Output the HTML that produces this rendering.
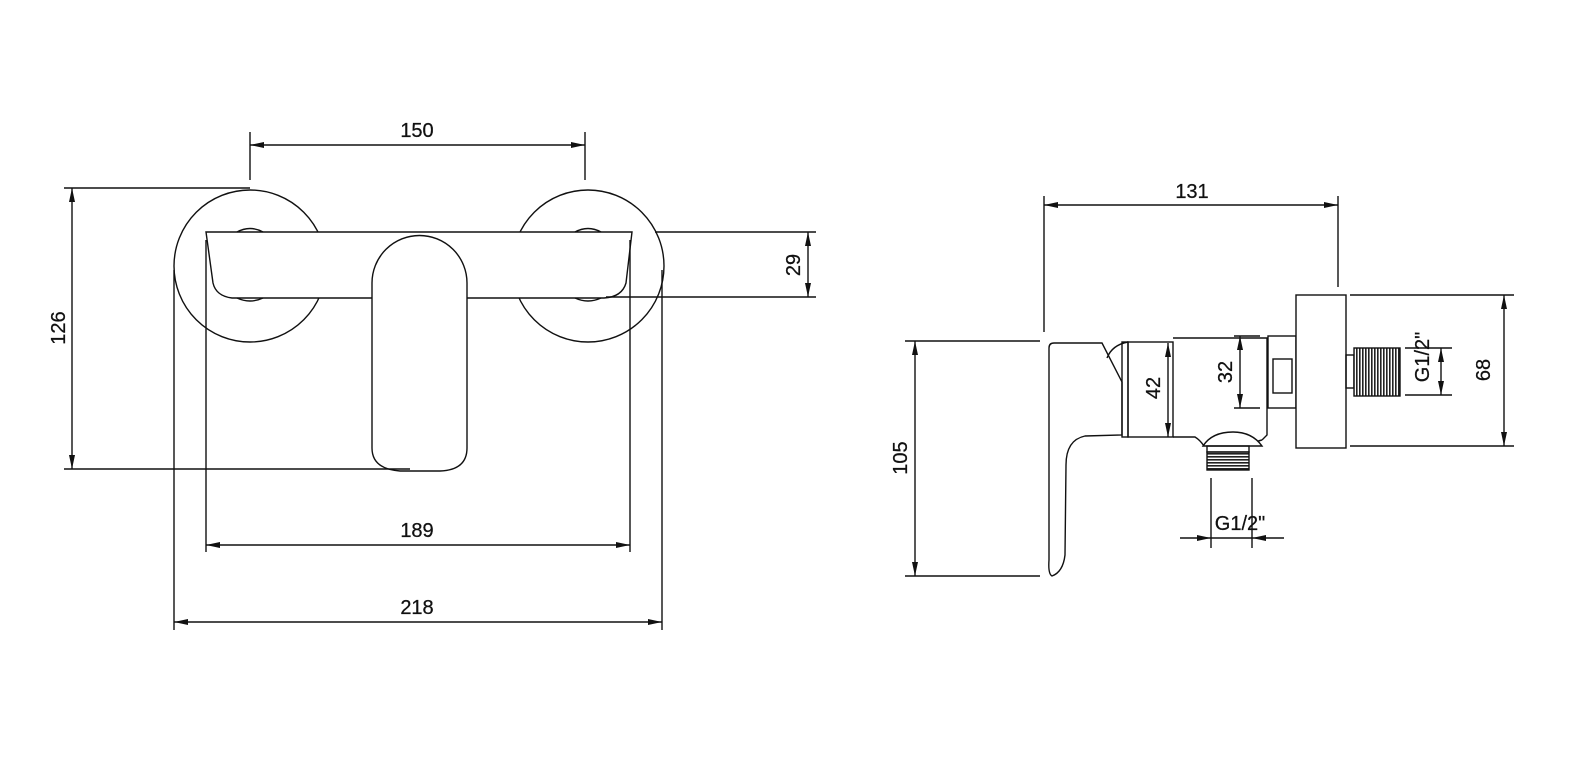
<!DOCTYPE html>
<html><head><meta charset="utf-8"><style>
html,body{margin:0;padding:0;background:#fff;}
svg{display:block}
text{font-family:"Liberation Sans",Arial,sans-serif;font-size:20px;fill:#111;stroke:#111;stroke-width:0.25}
</style></head><body>
<svg width="1576" height="776" viewBox="0 0 1576 776" xmlns="http://www.w3.org/2000/svg">
<defs>
<marker id="a" viewBox="0 0 14 6" refX="14" refY="3" markerWidth="14" markerHeight="6" markerUnits="userSpaceOnUse" orient="auto-start-reverse"><path d="M0,0 L14,3 L0,6 z" fill="#111"/></marker>
<pattern id="th" width="3" height="10" patternUnits="userSpaceOnUse"><rect width="3" height="10" fill="#fff"/><rect width="1.6" height="10" fill="#222"/></pattern>
<pattern id="tv" width="10" height="3" patternUnits="userSpaceOnUse"><rect width="10" height="3" fill="#fff"/><rect width="10" height="1.6" fill="#222"/></pattern>
</defs>
<g fill="none" stroke="#111" stroke-width="1.4">
<!-- LEFT VIEW -->
<circle cx="250" cy="266" r="76"/>
<circle cx="588" cy="266" r="76"/>
<path d="M206,232 L632,232 L626,283 Q622,297 604,298 L232,298 Q216,296 213,283 Z" fill="#fff"/>
<path d="M372,283 A47.5,47.5 0 0 1 467,283 L467,448 Q467,470 440,471 L400,471 Q372,469 372,448 Z" fill="#fff"/>
<path d="M237,232 Q250,225 263,232 M575,232 Q588,225 601,232 M237,298 Q250,304 263,298 M575,298 Q588,304 601,298"/>
<!-- dims left -->
<line x1="250" y1="132" x2="250" y2="180"/><line x1="585" y1="132" x2="585" y2="180"/>
<line x1="250" y1="145" x2="585" y2="145" marker-start="url(#a)" marker-end="url(#a)"/>
<line x1="64" y1="188" x2="250" y2="188"/><line x1="64" y1="469" x2="410" y2="469"/>
<line x1="72" y1="188" x2="72" y2="469" marker-start="url(#a)" marker-end="url(#a)"/>
<line x1="655" y1="232" x2="816" y2="232"/><line x1="606" y1="297" x2="816" y2="297"/>
<line x1="808" y1="232" x2="808" y2="297" marker-start="url(#a)" marker-end="url(#a)"/>
<line x1="206" y1="240" x2="206" y2="552"/><line x1="630" y1="240" x2="630" y2="552"/>
<line x1="206" y1="545" x2="630" y2="545" marker-start="url(#a)" marker-end="url(#a)"/>
<line x1="174" y1="270" x2="174" y2="630"/><line x1="662" y1="270" x2="662" y2="630"/>
<line x1="174" y1="622" x2="662" y2="622" marker-start="url(#a)" marker-end="url(#a)"/>
<!-- RIGHT VIEW -->
<line x1="1044" y1="196" x2="1044" y2="332"/><line x1="1338" y1="196" x2="1338" y2="287"/>
<line x1="1044" y1="205" x2="1338" y2="205" marker-start="url(#a)" marker-end="url(#a)"/>
<line x1="905" y1="341" x2="1040" y2="341"/><line x1="905" y1="576" x2="1040" y2="576"/>
<line x1="915" y1="341" x2="915" y2="576" marker-start="url(#a)" marker-end="url(#a)"/>
<path d="M1054,343 L1102,343 L1122,382 L1122,435 L1085,436 Q1066,440 1066,465 L1065,555 Q1063,572 1052,576 Q1048,574 1049,560 L1049,348 Q1049,343 1054,343 Z" fill="#fff"/>
<path d="M1107,358 Q1112,345 1128,342"/>
<rect x="1122" y="342" width="6" height="95"/>
<rect x="1128" y="342" width="45" height="95"/>
<path d="M1173,338 L1267,338 L1267,435 L1262,440 M1173,437 L1195,437 Q1200,440 1204,446 M1252,446 Q1256,441 1262,440"/>
<path d="M1203,446 Q1212,432 1233,432 Q1252,432 1262,446 Z" fill="#fff"/>
<rect x="1207" y="452" width="42" height="18" fill="url(#tv)"/>
<rect x="1207" y="446" width="42" height="6"/>
<rect x="1268" y="336" width="28" height="72"/>
<rect x="1273" y="359" width="19" height="34"/>
<rect x="1296" y="295" width="50" height="153" fill="#fff"/>
<rect x="1346" y="355" width="8" height="33"/>
<rect x="1354" y="348" width="46" height="48" fill="url(#th)"/>
<line x1="1168" y1="343" x2="1168" y2="437" marker-start="url(#a)" marker-end="url(#a)"/>
<line x1="1234" y1="336" x2="1260" y2="336"/><line x1="1234" y1="408" x2="1260" y2="408"/>
<line x1="1240" y1="336" x2="1240" y2="408" marker-start="url(#a)" marker-end="url(#a)"/>
<line x1="1211" y1="478" x2="1211" y2="548"/><line x1="1252" y1="478" x2="1252" y2="548"/>
<line x1="1180" y1="538" x2="1211" y2="538" marker-end="url(#a)"/><line x1="1284" y1="538" x2="1252" y2="538" marker-end="url(#a)"/>
<line x1="1211" y1="538" x2="1252" y2="538"/>
<line x1="1405" y1="348" x2="1452" y2="348"/><line x1="1405" y1="395" x2="1452" y2="395"/>
<line x1="1441" y1="372" x2="1441" y2="348" marker-end="url(#a)"/><line x1="1441" y1="372" x2="1441" y2="395" marker-end="url(#a)"/>
<line x1="1350" y1="295" x2="1514" y2="295"/><line x1="1350" y1="446" x2="1514" y2="446"/>
<line x1="1504" y1="295" x2="1504" y2="446" marker-start="url(#a)" marker-end="url(#a)"/>
</g>
<text x="417" y="137" text-anchor="middle">150</text>
<text x="417" y="537" text-anchor="middle">189</text>
<text x="417" y="614" text-anchor="middle">218</text>
<text transform="translate(65,328) rotate(-90)" text-anchor="middle">126</text>
<text transform="translate(800,265) rotate(-90)" text-anchor="middle">29</text>
<text x="1192" y="198" text-anchor="middle">131</text>
<text transform="translate(907,458) rotate(-90)" text-anchor="middle">105</text>
<text transform="translate(1160,388) rotate(-90)" text-anchor="middle">42</text>
<text transform="translate(1232,372) rotate(-90)" text-anchor="middle">32</text>
<text x="1240" y="530" text-anchor="middle">G1/2"</text>
<text transform="translate(1429,357) rotate(-90)" text-anchor="middle">G1/2"</text>
<text transform="translate(1490,370) rotate(-90)" text-anchor="middle">68</text>
</svg>
</body></html>
